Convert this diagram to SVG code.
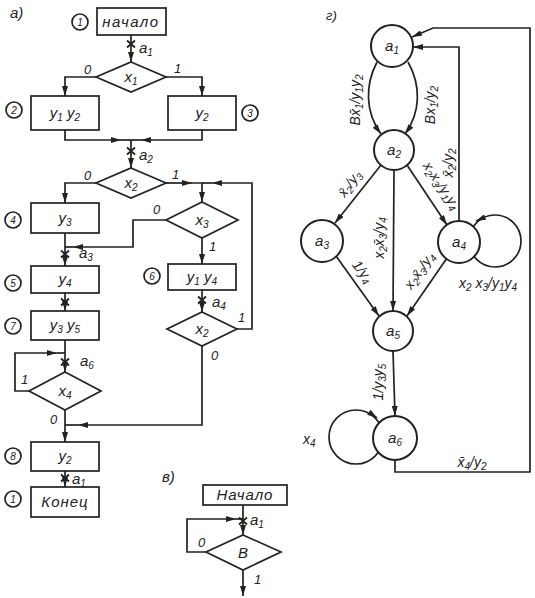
<svg xmlns="http://www.w3.org/2000/svg" width="535" height="598" viewBox="0 0 535 598">
<style>
.ln{fill:none;stroke:#222;stroke-width:1.7}
.bx{fill:#fff;stroke:#222;stroke-width:1.7}
.nd{fill:#fff;stroke:#222;stroke-width:2}
.t{font-family:"Liberation Sans",Arial,sans-serif;font-style:italic;font-size:15px;fill:#222}
.c{text-anchor:middle}
.sm{font-size:13px}
.gl{font-size:14px}
.sb{font-size:10px}
</style>
<defs>
<marker id="ar" markerUnits="userSpaceOnUse" markerWidth="10" markerHeight="6" refX="10" refY="3" orient="auto"><path d="M0,0 L10,3 L0,6 z" fill="#222"/></marker>
<path id="mk" d="M-4,-3.5 L4,3.5 M4,-3.5 L-4,3.5" fill="none" stroke="#222" stroke-width="1.8"/>
</defs>
<rect width="535" height="598" fill="#fff"/>

<text class="t" x="10" y="18">а)</text>
<text class="t" x="162" y="482">в)</text>
<text class="t sm" x="326" y="20">г)</text>

<g id="connectors">
<path class="ln" d="M131,35 V62" marker-end="url(#ar)"/>
<path class="ln" d="M96,77 H65 V96" marker-end="url(#ar)"/>
<path class="ln" d="M166,77 H202 V96" marker-end="url(#ar)"/>
<path class="ln" d="M65,130 V140 H121" marker-end="url(#ar)"/>
<path class="ln" d="M121,140 H141"/>
<path class="ln" d="M202,130 V140 H141" marker-end="url(#ar)"/>
<path class="ln" d="M131,140 V168" marker-end="url(#ar)"/>
<path class="ln" d="M96,183 H65 V203" marker-end="url(#ar)"/>
<path class="ln" d="M166,183 H192" marker-end="url(#ar)"/>
<path class="ln" d="M192,183 H202 V202" marker-end="url(#ar)"/>
<path class="ln" d="M237,329 H252 V183 H212" marker-end="url(#ar)"/>
<path class="ln" d="M212,183 H202"/>
<path class="ln" d="M166,220 H133 V247 H73" marker-end="url(#ar)"/>
<path class="ln" d="M73,247 H65"/>
<path class="ln" d="M202,238 V264" marker-end="url(#ar)"/>
<path class="ln" d="M202,290 V312" marker-end="url(#ar)"/>
<path class="ln" d="M202,346 V425 H78" marker-end="url(#ar)"/>
<path class="ln" d="M78,425 H65"/>
<path class="ln" d="M65,233 V266" marker-end="url(#ar)"/>
<path class="ln" d="M65,293 V311" marker-end="url(#ar)"/>
<path class="ln" d="M65,340 V372" marker-end="url(#ar)"/>
<path class="ln" d="M29,391 H15 V353 H57" marker-end="url(#ar)"/>
<path class="ln" d="M57,353 H65"/>
<path class="ln" d="M65,410 V442" marker-end="url(#ar)"/>
<path class="ln" d="M65,471 V487" marker-end="url(#ar)"/>
<path class="ln" d="M243,505 V535" marker-end="url(#ar)"/>
<path class="ln" d="M206,552 H187 V519 H236" marker-end="url(#ar)"/>
<path class="ln" d="M236,519 H243"/>
<path class="ln" d="M243,570 V596" marker-end="url(#ar)"/>
<use href="#mk" x="131" y="44"/>
<use href="#mk" x="131" y="151"/>
<use href="#mk" x="65" y="254"/>
<use href="#mk" x="65" y="302"/>
<use href="#mk" x="65" y="362"/>
<use href="#mk" x="65" y="478"/>
<use href="#mk" x="202" y="300"/>
<use href="#mk" x="243" y="521"/>
<path class="ln" d="M377,62 C365,85 365,112 381,134" marker-end="url(#ar)"/>
<path class="ln" d="M408,62 C421,85 421,112 405,134" marker-end="url(#ar)"/>
<path class="ln" d="M381,165 L335,223" marker-end="url(#ar)"/>
<path class="ln" d="M394,170 L393,311" marker-end="url(#ar)"/>
<path class="ln" d="M407,165 L447,225" marker-end="url(#ar)"/>
<path class="ln" d="M336,256 L379,316" marker-end="url(#ar)"/>
<path class="ln" d="M447,258 L407,316" marker-end="url(#ar)"/>
<path class="ln" d="M393,351 L395,416" marker-end="url(#ar)"/>
<path class="ln" d="M459,221 V47 H413" marker-end="url(#ar)"/>
<path class="ln" d="M395,460 V472 H530 V28 H433 L412,37" marker-end="url(#ar)"/>
<circle class="ln" cx="495" cy="241" r="26"/>
<path class="ln" d="M483,218 L476,221" marker-end="url(#ar)"/>
<circle class="ln" cx="356" cy="437" r="27"/>
<path class="ln" d="M370,413 L377,418" marker-end="url(#ar)"/>
</g>

<g id="n-start">
<rect class="bx" x="97" y="8" width="69" height="27"/>
<text class="t c" x="131" y="27" letter-spacing="1.5">начало</text>
<circle class="ln" cx="80" cy="22" r="8"/><text class="t c sb" x="80" y="26">1</text>
</g>
<g id="n-x1">
<path class="bx" d="M131,62 L166,77 L131,92 L96,77 Z"/>
<text class="t c" x="131" y="82">x<tspan class="sb" dy="3">1</tspan></text>
</g>
<g id="n-y1y2">
<rect class="bx" x="31" y="96" width="68" height="34"/>
<text class="t c" x="65" y="118">y<tspan class="sb" dy="3">1</tspan><tspan dy="-3"> y</tspan><tspan class="sb" dy="3">2</tspan></text>
<circle class="ln" cx="14" cy="110" r="8"/><text class="t c sb" x="14" y="114">2</text>
</g>
<g id="n-y2a">
<rect class="bx" x="168" y="96" width="68" height="34"/>
<text class="t c" x="202" y="118">y<tspan class="sb" dy="3">2</tspan></text>
<circle class="ln" cx="250" cy="113" r="8"/><text class="t c sb" x="250" y="117">3</text>
</g>
<g id="n-x2">
<path class="bx" d="M131,168 L166,183 L131,198 L96,183 Z"/>
<text class="t c" x="131" y="188">x<tspan class="sb" dy="3">2</tspan></text>
</g>
<g id="n-y3">
<rect class="bx" x="31" y="203" width="68" height="30"/>
<text class="t c" x="65" y="223">y<tspan class="sb" dy="3">3</tspan></text>
<circle class="ln" cx="13" cy="220" r="8"/><text class="t c sb" x="13" y="224">4</text>
</g>
<g id="n-x3">
<path class="bx" d="M202,202 L238,220 L202,238 L166,220 Z"/>
<text class="t c" x="202" y="225">x<tspan class="sb" dy="3">3</tspan></text>
</g>
<g id="n-y4">
<rect class="bx" x="31" y="266" width="68" height="27"/>
<text class="t c" x="65" y="284">y<tspan class="sb" dy="3">4</tspan></text>
<circle class="ln" cx="13" cy="283" r="8"/><text class="t c sb" x="13" y="287">5</text>
</g>
<g id="n-y1y4">
<rect class="bx" x="168" y="264" width="68" height="26"/>
<text class="t c" x="202" y="282">y<tspan class="sb" dy="3">1</tspan><tspan dy="-3"> y</tspan><tspan class="sb" dy="3">4</tspan></text>
<circle class="ln" cx="152" cy="276" r="8"/><text class="t c sb" x="152" y="280">6</text>
</g>
<g id="n-x2b">
<path class="bx" d="M202,312 L237,329 L202,346 L167,329 Z"/>
<text class="t c" x="202" y="334">x<tspan class="sb" dy="3">2</tspan></text>
</g>
<g id="n-y3y5">
<rect class="bx" x="31" y="311" width="68" height="29"/>
<text class="t c" x="65" y="330">y<tspan class="sb" dy="3">3</tspan><tspan dy="-3"> y</tspan><tspan class="sb" dy="3">5</tspan></text>
<circle class="ln" cx="13" cy="326" r="8"/><text class="t c sb" x="13" y="330">7</text>
</g>
<g id="n-x4">
<path class="bx" d="M65,372 L101,391 L65,410 L29,391 Z"/>
<text class="t c" x="65" y="396">x<tspan class="sb" dy="3">4</tspan></text>
</g>
<g id="n-y2b">
<rect class="bx" x="31" y="442" width="68" height="29"/>
<text class="t c" x="65" y="461">y<tspan class="sb" dy="3">2</tspan></text>
<circle class="ln" cx="13" cy="456" r="8"/><text class="t c sb" x="13" y="460">8</text>
</g>
<g id="n-end">
<rect class="bx" x="31" y="487" width="68" height="30"/>
<text class="t c" x="65" y="507" letter-spacing="1">Конец</text>
<circle class="ln" cx="13" cy="499" r="8"/><text class="t c sb" x="13" y="503">1</text>
</g>

<g id="labels-a">
<text class="t" x="139" y="53">a<tspan class="sb" dy="3">1</tspan></text>
<text class="t" x="139" y="160">a<tspan class="sb" dy="3">2</tspan></text>
<text class="t" x="79" y="258">a<tspan class="sb" dy="3">3</tspan></text>
<text class="t" x="212" y="307">a<tspan class="sb" dy="3">4</tspan></text>
<text class="t" x="80" y="366">a<tspan class="sb" dy="3">6</tspan></text>
<text class="t" x="72" y="484">a<tspan class="sb" dy="3">1</tspan></text>
<text class="t sm" x="84" y="74">0</text>
<text class="t sm" x="174" y="73">1</text>
<text class="t sm" x="84" y="180">0</text>
<text class="t sm" x="172" y="179">1</text>
<text class="t sm" x="153" y="214">0</text>
<text class="t sm" x="209" y="251">1</text>
<text class="t sm" x="238" y="322">1</text>
<text class="t sm" x="211" y="360">0</text>
<text class="t sm" x="21" y="384">1</text>
<text class="t sm" x="50" y="424">0</text>
</g>

<g id="n-b-start">
<rect class="bx" x="203" y="485" width="84" height="20"/>
<text class="t c" x="245" y="500" letter-spacing="1">Начало</text>
</g>
<g id="n-b-diamond">
<path class="bx" d="M243,535 L281,552 L243,570 L206,552 Z"/>
<text class="t c" x="243" y="558">B</text>
</g>
<text class="t" x="250" y="525">a<tspan class="sb" dy="3">1</tspan></text>
<text class="t sm" x="198" y="547">0</text>
<text class="t sm" x="254" y="584">1</text>

<g id="g-a1"><circle class="nd" cx="392" cy="46" r="21"/><text class="t c" x="392" y="51">a<tspan class="sb" dy="3">1</tspan></text></g>
<g id="g-a2"><circle class="nd" cx="394" cy="150" r="20"/><text class="t c" x="394" y="155">a<tspan class="sb" dy="3">2</tspan></text></g>
<g id="g-a3"><circle class="nd" cx="322" cy="241" r="21"/><text class="t c" x="322" y="246">a<tspan class="sb" dy="3">3</tspan></text></g>
<g id="g-a4"><circle class="nd" cx="459" cy="242" r="21"/><text class="t c" x="459" y="247">a<tspan class="sb" dy="3">4</tspan></text></g>
<g id="g-a5"><circle class="nd" cx="393" cy="331" r="20"/><text class="t c" x="393" y="336">a<tspan class="sb" dy="3">5</tspan></text></g>
<g id="g-a6"><circle class="nd" cx="395" cy="438" r="22"/><text class="t c" x="395" y="443">a<tspan class="sb" dy="3">6</tspan></text></g>

<g id="labels-g" class="t gl">
<text class="c" transform="translate(356,100) rotate(-90)" y="4">Bx̄<tspan class="sb" dy="3">1</tspan><tspan dy="-3">/y</tspan><tspan class="sb" dy="3">1</tspan><tspan dy="-3">y</tspan><tspan class="sb" dy="3">2</tspan></text>
<text class="c" transform="translate(431,105) rotate(-90)" y="4">Bx<tspan class="sb" dy="3">1</tspan><tspan dy="-3">/y</tspan><tspan class="sb" dy="3">2</tspan></text>
<text class="c" transform="translate(350,184) rotate(-54)" y="4">x̄<tspan class="sb" dy="3">2</tspan><tspan dy="-3">/y</tspan><tspan class="sb" dy="3">3</tspan></text>
<text class="c" transform="translate(380,238) rotate(-90)" y="4">x<tspan class="sb" dy="3">2</tspan><tspan dy="-3">x̄</tspan><tspan class="sb" dy="3">3</tspan><tspan dy="-3">/y</tspan><tspan class="sb" dy="3">4</tspan></text>
<text class="c" transform="translate(441,186) rotate(56)" y="4">x<tspan class="sb" dy="3">2</tspan><tspan dy="-3">x</tspan><tspan class="sb" dy="3">3</tspan><tspan dy="-3">/y</tspan><tspan class="sb" dy="3">1</tspan><tspan dy="-3">y</tspan><tspan class="sb" dy="3">4</tspan></text>
<text class="c" transform="translate(449,163) rotate(-90)" y="4">x̄<tspan class="sb" dy="3">2</tspan><tspan dy="-3">/y</tspan><tspan class="sb" dy="3">2</tspan></text>
<text class="c" transform="translate(362,272) rotate(52)" y="4">1/y<tspan class="sb" dy="3">4</tspan></text>
<text class="c" transform="translate(420,271) rotate(-55)" y="4">x<tspan class="sb" dy="3">2</tspan><tspan dy="-3">x̄</tspan><tspan class="sb" dy="3">3</tspan><tspan dy="-3">/y</tspan><tspan class="sb" dy="3">4</tspan></text>
<text class="c" x="488" y="288">x<tspan class="sb" dy="3">2</tspan><tspan dy="-3"> x</tspan><tspan class="sb" dy="3">3</tspan><tspan dy="-3">/y</tspan><tspan class="sb" dy="3">1</tspan><tspan dy="-3">y</tspan><tspan class="sb" dy="3">4</tspan></text>
<text class="c" transform="translate(379,382) rotate(-90)" y="4">1/y<tspan class="sb" dy="3">3</tspan><tspan dy="-3">y</tspan><tspan class="sb" dy="3">5</tspan></text>
<text x="303" y="444">x<tspan class="sb" dy="3">4</tspan></text>
<text class="c" x="472" y="467">x̄<tspan class="sb" dy="3">4</tspan><tspan dy="-3">/y</tspan><tspan class="sb" dy="3">2</tspan></text>
</g>
</svg>
